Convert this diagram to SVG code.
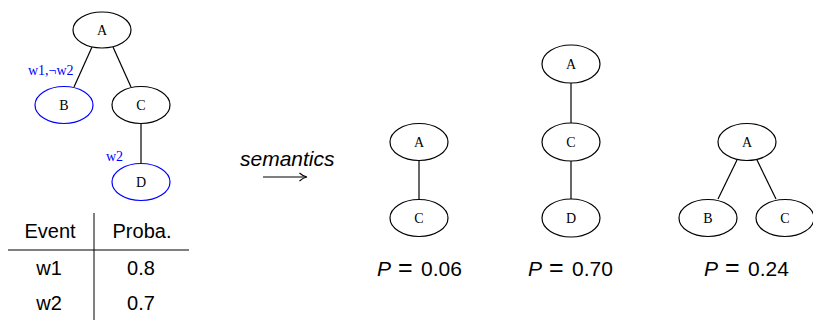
<svg xmlns="http://www.w3.org/2000/svg" width="813" height="320" viewBox="0 0 813 320">
<style>
.n ellipse{fill:#fff;stroke:#000;stroke-width:1.2}
.n.b ellipse{stroke:#0000ff}
.n text{font-family:"Liberation Serif",serif;font-size:14px;text-anchor:middle;fill:#000}
.e line{stroke:#000;stroke-width:1.2}
.lbl{font-family:"Liberation Serif",serif;font-size:14px;fill:#0000ff}
.s{font-family:"Liberation Sans",Arial,sans-serif;font-size:21px;fill:#000}
.eq{font-size:25px}
.tb{font-family:"Liberation Sans",Arial,sans-serif;font-size:20px;fill:#000;text-anchor:middle}
</style>
<rect width="813" height="320" fill="#fff"/>
<g id="connectors" class="e">
<line x1="92" y1="47" x2="74" y2="87"/>
<line x1="113" y1="47" x2="131" y2="87"/>
<line x1="141" y1="123" x2="141" y2="164"/>
<line x1="419" y1="160" x2="419" y2="200"/>
<line x1="571" y1="83" x2="571" y2="124"/>
<line x1="571" y1="161" x2="571" y2="200"/>
<line x1="737" y1="160" x2="718" y2="199"/>
<line x1="757" y1="160" x2="776" y2="199"/>
</g>
<g id="t0A" class="n"><ellipse cx="102" cy="30" rx="29" ry="18"/><text x="102" y="35">A</text></g>
<g id="t0B" class="n b"><ellipse cx="64" cy="105" rx="29" ry="18.5"/><text x="64" y="110">B</text></g>
<g id="t0C" class="n"><ellipse cx="141" cy="105" rx="29" ry="18.5"/><text x="141" y="110">C</text></g>
<g id="t0D" class="n b"><ellipse cx="141" cy="182" rx="29" ry="18.5"/><text x="141" y="187">D</text></g>
<text class="lbl" x="28" y="75">w1,¬w2</text>
<text class="lbl" x="106" y="161">w2</text>
<g id="table">
<line x1="94" y1="213" x2="94" y2="320" stroke="#000" stroke-width="1"/>
<line x1="8" y1="250" x2="189" y2="250" stroke="#000" stroke-width="1"/>
<text class="tb" x="50" y="238">Event</text>
<text class="tb" x="142" y="238">Proba.</text>
<text class="tb" x="49" y="275">w1</text>
<text class="tb" x="141" y="275">0.8</text>
<text class="tb" x="49" y="310">w2</text>
<text class="tb" x="141" y="310">0.7</text>
</g>
<g id="arrow">
<text class="s" x="240" y="166" font-style="italic" font-size="20">semantics</text>
<line x1="263" y1="177" x2="306" y2="177" stroke="#000" stroke-width="1.1"/>
<path d="M299.5,173 Q303,176.3 307,177 Q303,177.7 299.5,181" fill="none" stroke="#000" stroke-width="1.1"/>
</g>
<g id="t1A" class="n"><ellipse cx="419" cy="142" rx="29" ry="18.5"/><text x="419" y="147">A</text></g>
<g id="t1C" class="n"><ellipse cx="419" cy="218" rx="29" ry="18.5"/><text x="419" y="223">C</text></g>
<g id="t2A" class="n"><ellipse cx="571" cy="64" rx="29" ry="19"/><text x="571" y="69">A</text></g>
<g id="t2C" class="n"><ellipse cx="571" cy="142" rx="29" ry="19"/><text x="571" y="147">C</text></g>
<g id="t2D" class="n"><ellipse cx="571" cy="218" rx="29" ry="19"/><text x="571" y="223">D</text></g>
<g id="t3A" class="n"><ellipse cx="747" cy="142" rx="29" ry="18.5"/><text x="747" y="147">A</text></g>
<g id="t3B" class="n"><ellipse cx="708" cy="218" rx="29" ry="18.5"/><text x="708" y="223">B</text></g>
<g id="t3C" class="n"><ellipse cx="785" cy="218" rx="29" ry="18.5"/><text x="785" y="223">C</text></g>
<text class="s" x="377" y="276"><tspan font-style="italic">P</tspan><tspan x="398" class="eq">=</tspan><tspan x="421">0.06</tspan></text>
<text class="s" x="528" y="276"><tspan font-style="italic">P</tspan><tspan x="549" class="eq">=</tspan><tspan x="572">0.70</tspan></text>
<text class="s" x="704" y="276"><tspan font-style="italic">P</tspan><tspan x="725" class="eq">=</tspan><tspan x="748">0.24</tspan></text>
</svg>
